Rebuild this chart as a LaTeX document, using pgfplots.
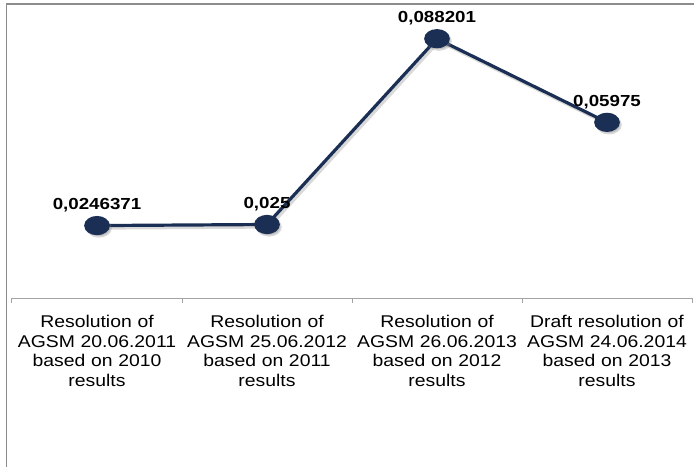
\documentclass[border=0pt]{standalone}
\usepackage{pgfplots}
\pgfplotsset{compat=1.18}
\usepackage{fontspec}
\setmainfont{Liberation Sans}
\newfontfamily\labfont[FakeStretch=1.14]{Liberation Sans}
\newfontfamily\valfont[FakeStretch=1.17]{Liberation Sans}
\definecolor{navy}{HTML}{1B2F55}
\definecolor{framec}{HTML}{8C8C8C}
\begin{document}
\begin{tikzpicture}[x=1pt,y=1pt]
\path[use as bounding box] (0,0) rectangle (694,467);
\draw[framec, line width=1.3pt] (6.5,0) -- (6.5,463) -- (694,463);
\begin{axis}[
  at={(12pt,169pt)}, anchor=south west,
  scale only axis, width=680pt, height=294pt,
  xmin=0.5, xmax=4.5, ymin=0, ymax=0.1,
  axis x line=bottom, axis y line=none,
  x axis line style={-, framec!80, line width=1pt},
  ytick=\empty,
  xtick={0.5,1.5,2.5,3.5,4.5},
  x tick label as interval,
  xticklabels={{Resolution of\\AGSM 20.06.2011\\based on 2010\\results},
               {Resolution of\\AGSM 25.06.2012\\based on 2011\\results},
               {Resolution of\\AGSM 26.06.2013\\based on 2012\\results},
               {Draft resolution of\\AGSM 24.06.2014\\based on 2013\\results}},
  tick align=outside,
  major tick length=5pt,
  x tick style={framec!80, line width=1pt},
  xticklabel style={font=\labfont\fontsize{17}{19.5}\selectfont, align=center, text width=170pt, anchor=north, inner sep=0pt, yshift=-12pt},
  clip=false,
]
\addplot[gray, opacity=0.3, line width=3.2pt, mark=*, mark size=8pt,
  mark options={xscale=1.4, draw=none, fill=gray}, shift={(2pt,-2.5pt)}, forget plot]
  coordinates {(1,0.0246371) (2,0.025) (3,0.088201) (4,0.05975)};
\addplot[navy, line width=3.2pt, mark=*, mark size=8pt,
  mark options={xscale=1.4, draw=none, fill=navy},
  nodes near coords, point meta=explicit symbolic,
  every node near coord/.style={font=\valfont\bfseries\fontsize{16}{16}\selectfont, anchor=base, yshift=16pt, inner sep=0pt, text=black}]
  table[meta=label] {
x y label
1 0.0246371 0,0246371
2 0.025 0,025
3 0.088201 0,088201
4 0.05975 0,05975
};
\end{axis}
\end{tikzpicture}
\end{document}
